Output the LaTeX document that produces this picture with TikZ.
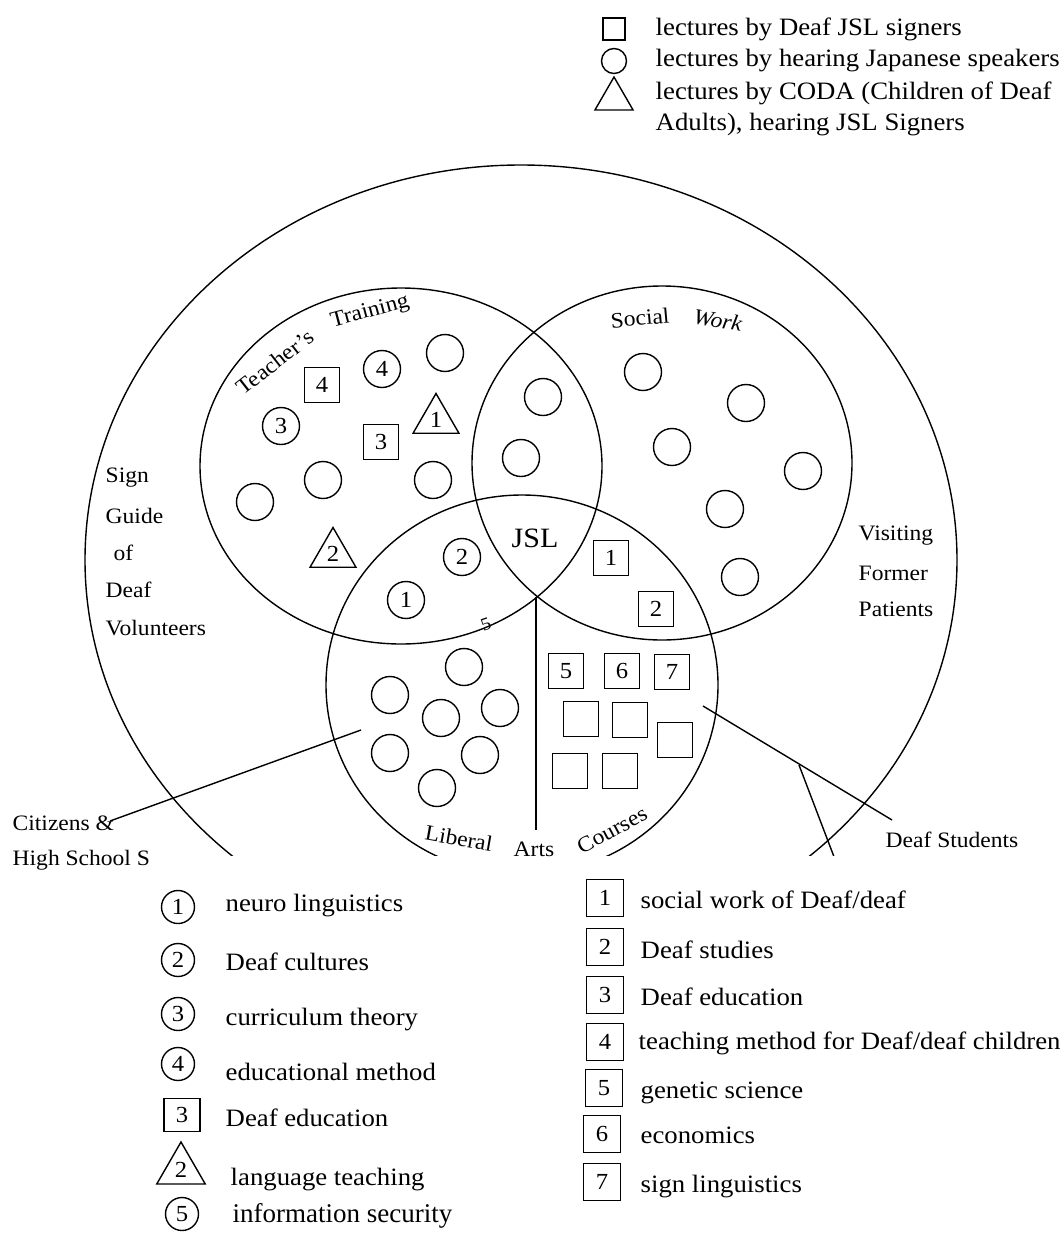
\documentclass[tikz,border=0pt]{standalone}
\usepackage{fontspec}
\setmainfont{Liberation Serif}[FakeStretch=1.07]
\newfontfamily\plainserif{Liberation Serif}
\usetikzlibrary{shapes.geometric}
\begin{document}
\begin{tikzpicture}[x=1pt,y=-1pt,line width=1.4pt,
  every node/.style={inner sep=0pt},
  lab/.style={font=\fontsize{22}{24}\selectfont, anchor=west},
  leg/.style={font=\fontsize{25}{27}\selectfont, anchor=west},
  num/.style={font=\fontsize{23}{23}\selectfont},
  circ/.style={draw, circle, minimum size=37pt, num},
  sqr/.style={draw, rectangle, minimum size=35pt, num},
  tri/.style={draw, regular polygon, regular polygon sides=3, minimum size=53pt, num},
  lcirc/.style={draw, circle, minimum size=33pt, num},
  lsqr/.style={draw, rectangle, minimum size=37pt, num},
]
\fill[white] (0,0) rectangle (1064,1234);
\path[use as bounding box] (0,0) rectangle (1064,1234);

% ---- top legend
\node[draw, rectangle, minimum size=22pt] (lsq) at (614,29) {};
\node[draw, circle, minimum size=25pt] (lci) at (614,61) {};
\node[draw, regular polygon, regular polygon sides=3, minimum size=44pt] (ltr) at (614,99) {};
\node[leg] (lt1) at (655,29) {lectures by Deaf JSL signers};
\node[leg] (lt2) at (655,61) {lectures by hearing Japanese speakers};
\node[leg] (lt3) at (655,93) {lectures by CODA (Children of Deaf};
\node[leg] (lt4) at (655,125) {Adults), hearing JSL Signers};

% ---- big outlines
\begin{scope}
\clip (0,0) rectangle (1064,855);
\draw (521,560) ellipse [x radius=436pt, y radius=395pt];
\draw (522,685) ellipse [x radius=196pt, y radius=190pt];
\coordinate (dsC) at (799,765);
\coordinate (dsD) at (836,862);
\draw (dsC) -- (dsD);
\end{scope}
\draw (401,466) ellipse [x radius=201pt, y radius=178pt];
\draw (662,463) ellipse [x radius=190pt, y radius=177pt];

\coordinate (jslx) at (536,597);
\coordinate (jslb) at (536,830);
\draw (jslx) -- (jslb);

% ---- area labels
\node[lab, anchor=center, rotate=38] (tt1) at (275,362) {Teacher's};
\node[lab, anchor=center, rotate=15] (tt2) at (370,312) {Training};
\node[lab, anchor=center, rotate=5] (sw1) at (640,318) {Social};
\node[font=\fontsize{22}{24}\selectfont\itshape, rotate=-10] (sw2) at (718,320) {Work};
\node[font=\fontsize{28}{30}\selectfont] (jsl) at (535,538) {JSL};
\node[font=\fontsize{18}{18}\selectfont, rotate=20] (five) at (486,624) {5};
\node[lab, anchor=center, rotate=-10] (lib) at (459,838) {Liberal};
\node[lab, anchor=center] (arts) at (534,849) {Arts};
\node[lab, anchor=center, rotate=28] (crs) at (612,830) {Courses};

\node[lab] (sg1) at (105,478) {Sign};
\node[lab] (sg2) at (105,516) {Guide};
\node[lab] (sg3) at (113,553) {of};
\node[lab] (sg4) at (105,590) {Deaf};
\node[lab] (sg5) at (105,628) {Volunteers};
\node[lab] (vf1) at (858,536) {Visiting};
\node[lab] (vf2) at (858,573) {Former};
\node[lab] (vf3) at (858,609) {Patients};
\node[lab] (cit) at (12,823) {Citizens \&};
\node[lab] (hss) at (12,860) {High School S};
\node[lab] (dst) at (885,840) {Deaf Students};

\coordinate (citA) at (361,730);
\coordinate (citB) at (110,821);
\draw (citA) -- (citB);
\coordinate (dsA) at (703,706);
\coordinate (dsB) at (892,820);
\draw (dsA) -- (dsB);

% ---- Teacher's Training
\node[sqr] (t4s) at (322,385) {4};
\node[circ] (t4c) at (382,369) {4};
\node[circ] (te1) at (445,353) {};
\node[circ] (t3c) at (281,426) {3};
\node[sqr] (t3s) at (381,442) {3};
\node[tri] (t1t) at (436,420) {1};
\node[circ] (te2) at (255,502) {};
\node[circ] (te3) at (323,480) {};
\node[circ] (te4) at (433,480) {};
\node[tri] (t2t) at (333,554) {2};
% lens teacher/social
\node[circ] (ts1) at (543,397) {};
\node[circ] (ts2) at (521,458) {};
% Social Work
\node[circ] (s1) at (643,372) {};
\node[circ] (s2) at (746,403) {};
\node[circ] (s3) at (672,447) {};
\node[circ] (s4) at (803,471) {};
\node[circ] (s5) at (725,509) {};
\node[circ] (s6) at (740,577) {};
% teacher/bottom
\node[circ] (tb2) at (462,557) {2};
\node[circ] (tb1) at (406,600) {1};
% social/bottom
\node[sqr] (sb1) at (611,558) {1};
\node[sqr] (sb2) at (656,609) {2};
% bottom left circles
\node[circ] (b1) at (464,667) {};
\node[circ] (b2) at (390,695) {};
\node[circ] (b3) at (441,718) {};
\node[circ] (b4) at (500,708) {};
\node[circ] (b5) at (390,753) {};
\node[circ] (b6) at (480,755) {};
\node[circ] (b7) at (437,788) {};
% bottom right squares
\node[sqr] (q5) at (566,671) {5};
\node[sqr] (q6) at (622,671) {6};
\node[sqr] (q7) at (672,672) {7};
\node[sqr] (qa) at (581,719) {};
\node[sqr] (qb) at (630,720) {};
\node[sqr] (qc) at (675,740) {};
\node[sqr] (qd) at (570,771) {};
\node[sqr] (qe) at (620,771) {};

% ---- bottom-left legend
\node[lcirc] (lc1) at (178,907) {1};
\node[leg] (lx1) at (225,906) {neuro linguistics};
\node[lcirc] (lc2) at (178,960) {2};
\node[leg] (lx2) at (225,962) {Deaf cultures};
\node[lcirc] (lc3) at (178,1014) {3};
\node[leg] (lx3) at (225,1020) {curriculum theory};
\node[lcirc] (lc4) at (178,1064) {4};
\node[leg] (lx4) at (225,1072) {educational method};
\node[draw, rectangle, minimum width=36pt, minimum height=33pt, num] (ls3) at (182,1115) {3};
\node[leg] (lx5) at (225,1118) {Deaf education};
\node[draw, regular polygon, regular polygon sides=3, minimum size=56pt, num] (lt2t) at (181,1170) {2};
\node[leg] (lx6) at (230,1180) {language teaching};
\node[lcirc] (lc5) at (182,1214) {5};
\node[anchor=west, font=\plainserif\fontsize{27}{29}\selectfont] (lx7) at (232,1216) {information security};

% ---- bottom-right legend
\node[lsqr] (r1) at (605,898) {1};
\node[leg] (rx1) at (640,900) {social work of Deaf/deaf};
\node[lsqr] (r2) at (605,947) {2};
\node[leg] (rx2) at (640,950) {Deaf studies};
\node[lsqr] (r3) at (605,995) {3};
\node[leg] (rx3) at (640,997) {Deaf education};
\node[lsqr] (r4) at (605,1042) {4};
\node[leg] (rx4) at (638,1043) {teaching method for Deaf/deaf children};
\node[lsqr] (r5) at (604,1088) {5};
\node[leg] (rx5) at (640,1093) {genetic science};
\node[lsqr] (r6) at (602,1134) {6};
\node[leg] (rx6) at (640,1135) {economics};
\node[lsqr] (r7) at (602,1182) {7};
\node[leg] (rx7) at (640,1187) {sign linguistics};
\end{tikzpicture}
\end{document}
